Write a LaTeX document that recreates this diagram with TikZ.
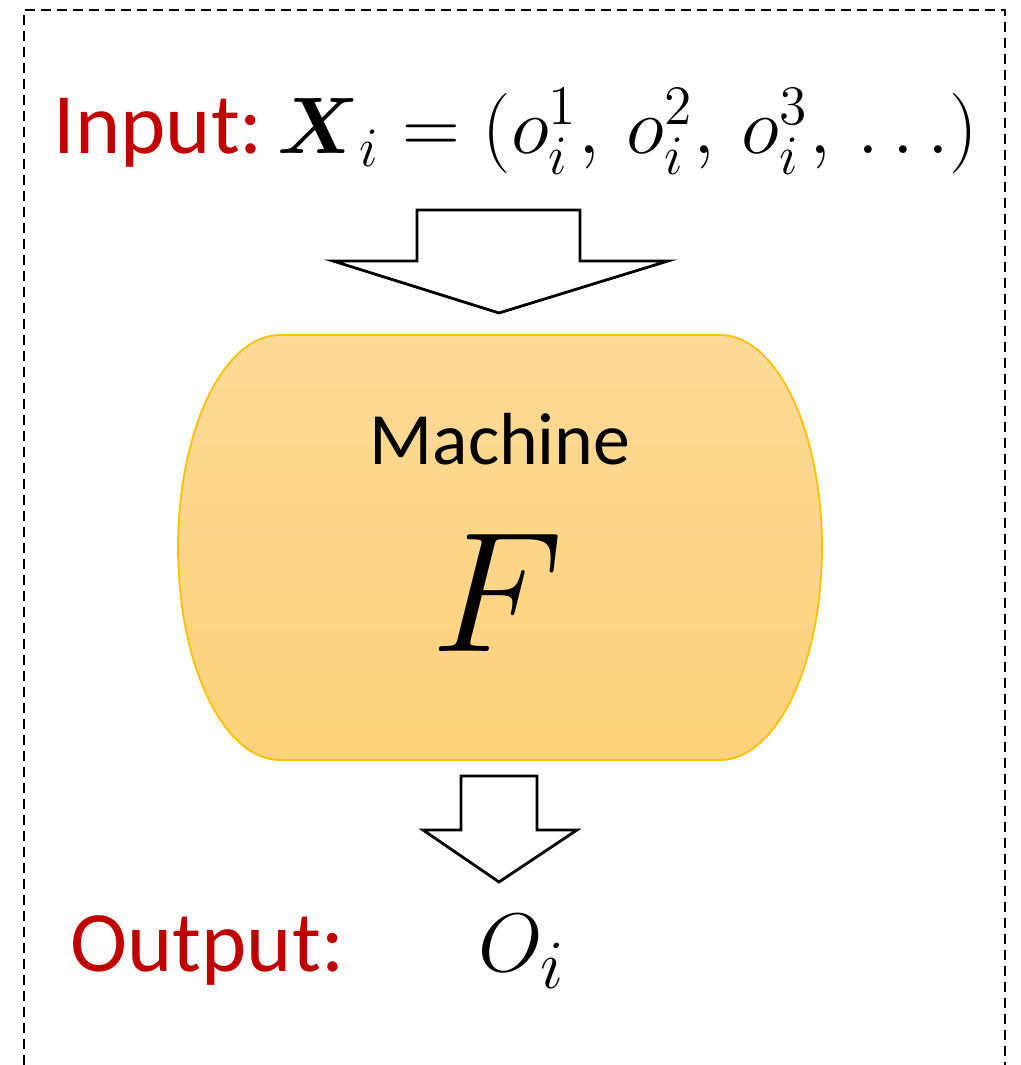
\documentclass[tikz,border=0pt]{standalone}
\usepackage{amsmath,amssymb}
\usepackage{fontspec}
\setmainfont{Carlito}
\usepackage{xcolor}
\definecolor{Tag}{HTML}{C00000}
\definecolor{Edge}{HTML}{FFC000}
\definecolor{FillTop}{HTML}{FCDA97}
\definecolor{FillBot}{HTML}{FDD27A}
\usetikzlibrary{positioning}
\tikzset{
  frame/.style={draw=black,line width=0.6pt,dash pattern=on 1mm off 0.6mm},
  machine/.style={draw=Edge,line width=0.5pt,top color=FillTop,bottom color=FillBot},
  blockarrow/.style={draw=black,line width=0.8pt,fill=white,line join=miter},
  io/.style={text=Tag,inner sep=0pt,font=\fontsize{24.5}{29}\selectfont},
  sym/.style={inner sep=0pt,font=\fontsize{20.74}{25}\selectfont},
  bigsym/.style={inner sep=0pt,font=\fontsize{24.88}{30}\selectfont}
}

\begin{document}
\begin{tikzpicture}[x=0.1mm,y=0.1mm]
  \useasboundingbox (0,0) rectangle (1020,1065);
  % outer frame, open at the bottom
  \draw[frame] (24,0) -- (24,1055) -- (1005,1055) -- (1005,0);
  % input line
  \node[io, anchor=base west] (input) at (53,911) {Input:};
  \node[sym, scale=1.1, anchor=base west] (xi) at (277,911)
    {$\boldsymbol{X}_i = (o_i^1,\, o_i^2,\, o_i^3,\, \ldots)$};
  % machine body
  \path[machine] (280,730) -- (720,730)
    arc[start angle=90,end angle=-90,x radius=102,y radius=212.5]
    -- (280,305)
    arc[start angle=270,end angle=90,x radius=102,y radius=212.5] -- cycle;
  \coordinate (mtop) at (499,730);
  \coordinate (mbot) at (499,305);
  \node[font=\fontsize{21}{25}\selectfont, anchor=base] (mname) at (500,600) {Machine};
  \node[bigsym, scale=1.96, anchor=base] (fn) at (497,413) {$F$};
  % block arrows
  \draw[blockarrow] (417,855) -- (580,855) -- (580,804) -- (668,804)
    -- (mtop |- 0,752) -- (333,804) -- (417,804) -- cycle;
  \draw[blockarrow] (461,289) -- (537,289) -- (537,235) -- (577,235)
    -- (mbot |- 0,183) -- (423,235) -- (461,235) -- cycle;
  % output line
  \node[io, anchor=base west] (output) at (70,93) {Output:};
  \node[bigsym, scale=0.95, anchor=base west] (oi) at (478,93) {$O_i$};
\end{tikzpicture}
\end{document}
